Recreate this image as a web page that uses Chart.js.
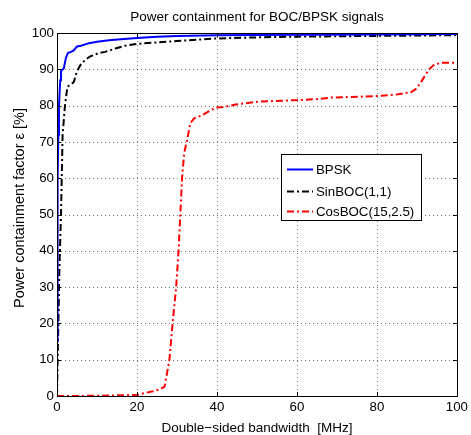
<!DOCTYPE html>
<html>
<head>
<meta charset="utf-8">
<script src="https://cdn.jsdelivr.net/npm/chart.js@4/dist/chart.umd.min.js"></script>
<style>
html,body{margin:0;padding:0;background:#fff;}
canvas{display:block;}
</style>
</head>
<body>
<canvas id="c" width="471" height="435"></canvas>
<script>
// ---- Data ----
const chartTitle = "Power containment for BOC/BPSK signals";
const xTitle = "Double\u2212sided bandwidth  [MHz]";
const yTitle = "Power containment factor \u03b5 [%]";
const seriesNames = ["BPSK", "SinBOC(1,1)", "CosBOC(15,2.5)"];

const bpskX = [0, 0.1, 0.2, 0.35, 0.5, 0.8, 1.0, 1.7, 2.2, 2.7, 3.5, 4.2, 5, 6, 8, 10, 13, 16, 20, 25, 30, 40, 60, 80, 100];
const bpskY = [15, 40, 60, 72, 80, 87, 89.5, 90.3, 93, 94.5, 94.8, 95.2, 96.3, 96.5, 97.2, 97.6, 98, 98.3, 98.6, 99.0, 99.2, 99.4, 99.5, 99.6, 99.7];

const sinbocX = [0, 0.15, 0.35, 0.6, 1.0, 1.4, 2.0, 2.6, 3.5, 4.2, 5.0, 6.1, 7, 8.2, 10.3, 12, 14.8, 17, 19.8, 25, 30, 40, 50, 60, 80, 100];
const sinbocY = [0, 10, 20, 35, 50, 72, 80, 85.2, 85.8, 86.5, 89.5, 91.6, 92.5, 93.5, 94.4, 94.8, 95.8, 96.5, 97, 97.4, 97.8, 98.5, 98.8, 99.0, 99.2, 99.4];

const cosbocX = [0, 10, 20, 21.5, 24, 25.6, 26.9, 28.1, 28.9, 29.8, 30.4, 30.8, 31.3, 31.8, 32.7, 33.3, 34.3, 36.4, 38.5, 40.1, 42.2, 44.7, 50.5, 59.6, 65.4, 68.7, 79.5, 85.3, 88.6, 89.9, 91.1, 92.4, 93.2, 94.4, 96.1, 100];
const cosbocY = [0, 0.05, 0.3, 0.7, 1.3, 1.8, 2.6, 9.9, 20, 30, 40, 49.4, 60.4, 66.9, 71.4, 75.1, 76.5, 77.4, 78.8, 79.5, 79.7, 80.3, 81.1, 81.5, 81.8, 82.2, 82.6, 83.1, 83.7, 84.7, 86.6, 88.9, 90.2, 91.3, 91.8, 91.8];

const xMin = 0, xMax = 100, xStep = 20;
const yMin = 0, yMax = 100, yStep = 10;

// ---- Helpers ----
const FONT = "'Liberation Sans', Arial, Helvetica, sans-serif";
const pts = (xs, ys) => xs.map((x, i) => ({x: x, y: ys[i]}));

const datasets = [
  {label: seriesNames[0], data: pts(bpskX, bpskY), borderColor: '#0000ff', borderWidth: 2, borderDash: []},
  {label: seriesNames[1], data: pts(sinbocX, sinbocY), borderColor: '#000000', borderWidth: 2, borderDash: [7, 3, 2, 3]},
  {label: seriesNames[2], data: pts(cosbocX, cosbocY), borderColor: '#ff0000', borderWidth: 2, borderDash: [7, 3, 2, 3]}
].map(d => Object.assign(d, {showLine: true, pointRadius: 0, tension: 0, fill: false}));

const matlabPlugin = {
  id: 'matlab',
  beforeDatasetsDraw(chart) {
    const {ctx, chartArea: a, scales: {x, y}} = chart;
    ctx.save();
    ctx.strokeStyle = 'rgba(0,0,0,0.55)';
    ctx.lineWidth = 1;
    ctx.setLineDash([1, 3]);
    x.ticks.forEach(t => {
      if (t.value === xMin || t.value === xMax) return;
      const px = Math.round(x.getPixelForValue(t.value)) + 0.5;
      ctx.beginPath(); ctx.moveTo(px, a.top); ctx.lineTo(px, a.bottom); ctx.stroke();
    });
    y.ticks.forEach(t => {
      if (t.value === yMin || t.value === yMax) return;
      const py = Math.round(y.getPixelForValue(t.value)) + 0.5;
      ctx.beginPath(); ctx.moveTo(a.left, py); ctx.lineTo(a.right, py); ctx.stroke();
    });
    ctx.restore();
  },
  afterDatasetsDraw(chart) {
    const {ctx, chartArea: a, scales: {x, y}} = chart;
    ctx.save();
    ctx.setLineDash([]);
    ctx.strokeStyle = '#000';
    ctx.lineWidth = 1;
    // inward tick marks on all four sides
    const tl = 4;
    x.ticks.forEach(t => {
      const px = Math.round(x.getPixelForValue(t.value)) + 0.5;
      ctx.beginPath();
      ctx.moveTo(px, a.bottom); ctx.lineTo(px, a.bottom - tl);
      ctx.moveTo(px, a.top); ctx.lineTo(px, a.top + tl);
      ctx.stroke();
    });
    y.ticks.forEach(t => {
      const py = Math.round(y.getPixelForValue(t.value)) + 0.5;
      ctx.beginPath();
      ctx.moveTo(a.left, py); ctx.lineTo(a.left + tl, py);
      ctx.moveTo(a.right, py); ctx.lineTo(a.right - tl, py);
      ctx.stroke();
    });
    // frame
    ctx.strokeRect(Math.round(a.left) + 0.5, Math.round(a.top) + 0.5,
                   Math.round(a.right - a.left), Math.round(a.bottom - a.top));

    // legend box (inside the axes)
    const lx = 281, ly = 154, lw = 140, lh = 66;
    ctx.fillStyle = '#fff';
    ctx.fillRect(lx, ly, lw, lh);
    ctx.strokeRect(lx + 0.5, ly + 0.5, lw, lh);
    ctx.font = '13.3px ' + FONT;
    ctx.textBaseline = 'middle';
    ctx.textAlign = 'left';
    const rows = [169, 191, 211];
    chart.data.datasets.forEach((d, i) => {
      const ry = rows[i] + 0.5;
      ctx.strokeStyle = d.borderColor;
      ctx.lineWidth = d.borderWidth;
      ctx.setLineDash(d.borderDash || []);
      ctx.beginPath(); ctx.moveTo(287, ry); ctx.lineTo(313, ry); ctx.stroke();
      ctx.setLineDash([]);
      ctx.fillStyle = '#000';
      ctx.fillText(d.label, 316, rows[i] + 1);
    });
    ctx.restore();
  },
  afterDraw(chart) {
    const {ctx, chartArea: a} = chart;
    ctx.save();
    ctx.fillStyle = '#000';
    ctx.textAlign = 'center';
    ctx.textBaseline = 'alphabetic';
    const cx = (a.left + a.right) / 2;
    ctx.font = '13.5px ' + FONT;
    ctx.fillText(chartTitle, cx, 20.5);
    ctx.fillText(xTitle, cx, 431.5);
    ctx.font = '14.5px ' + FONT;
    ctx.translate(23.5, 208);
    ctx.rotate(-Math.PI / 2);
    ctx.fillText(yTitle, 0, 0);
    ctx.restore();
  }
};

new Chart(document.getElementById('c'), {
  type: 'scatter',
  data: {datasets: datasets},
  options: {
    responsive: false,
    animation: false,
    devicePixelRatio: 1,
    layout: {padding: {left: 0, right: 12, top: 33, bottom: 0}},
    plugins: {legend: {display: false}, title: {display: false}, tooltip: {enabled: false}},
    scales: {
      x: {
        type: 'linear', min: xMin, max: xMax,
        ticks: {stepSize: xStep, padding: 3, color: '#000', maxRotation: 0, font: {family: FONT, size: 13.3}},
        grid: {display: false, drawTicks: false},
        border: {display: false},
        afterFit(s) { s.height = 39; }
      },
      y: {
        type: 'linear', min: yMin, max: yMax,
        ticks: {stepSize: yStep, padding: 3, color: '#000', font: {family: FONT, size: 13.3}},
        grid: {display: false, drawTicks: false},
        border: {display: false},
        afterFit(s) { s.width = 57; }
      }
    }
  },
  plugins: [matlabPlugin]
});
</script>
</body>
</html>
